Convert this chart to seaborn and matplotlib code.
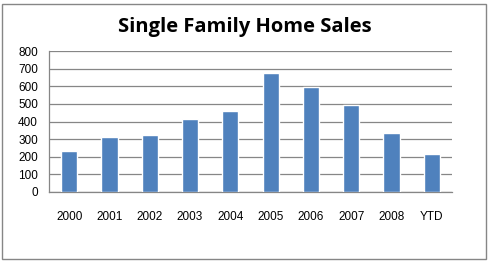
import matplotlib
matplotlib.use("Agg")
import matplotlib.pyplot as plt
import seaborn as sns
import pandas as pd
from matplotlib.patches import Rectangle

categories = ["2000", "2001", "2002", "2003", "2004", "2005", "2006", "2007", "2008", "YTD"]
sales = [232, 312, 323, 414, 460, 676, 598, 496, 334, 215]
yticks = [0, 100, 200, 300, 400, 500, 600, 700, 800]

df = pd.DataFrame({"year": categories, "sales": sales})

sns.set_style("white")
plt.rcParams["font.family"] = ["Liberation Sans", "DejaVu Sans"]

W, H = 490, 262
fig = plt.figure(figsize=(W / 100, H / 100), dpi=100)
ax = fig.add_axes([49 / W, 1 - 192 / H, (452 - 49) / W, (192 - 51) / H])

sns.barplot(data=df, x="year", y="sales", color="#4F81BD", saturation=1,
            width=0.4, ax=ax, zorder=3)

ax.set_ylim(0, 800)
ax.set_yticks(yticks)
ax.set_xlim(-0.5, len(categories) - 0.5)
ax.yaxis.grid(True, color="#868686", linewidth=0.9, zorder=0)
ax.set_axisbelow(True)
for s in ["top", "right"]:
    ax.spines[s].set_visible(False)
for s in ["left", "bottom"]:
    ax.spines[s].set_color("#868686")
    ax.spines[s].set_linewidth(0.9)
ax.set_xlabel("")
ax.set_ylabel("")
ax.tick_params(axis="both", length=0, labelsize=8.5, colors="black")
ax.tick_params(axis="x", pad=14)
ax.tick_params(axis="y", pad=8)

fig.text(0.5, 1 - 27 / H, "Single Family Home Sales", ha="center", va="center",
         fontsize=14.5, fontweight="bold", color="black",
         family=["Open Sans", "DejaVu Sans"])

fig.patches.append(Rectangle((2 / W, 3 / H), (486 - 2) / W, (258 - 3) / H,
                             transform=fig.transFigure, fill=False,
                             edgecolor="#868686", linewidth=1.0))

fig.savefig("out.png", dpi=100)
